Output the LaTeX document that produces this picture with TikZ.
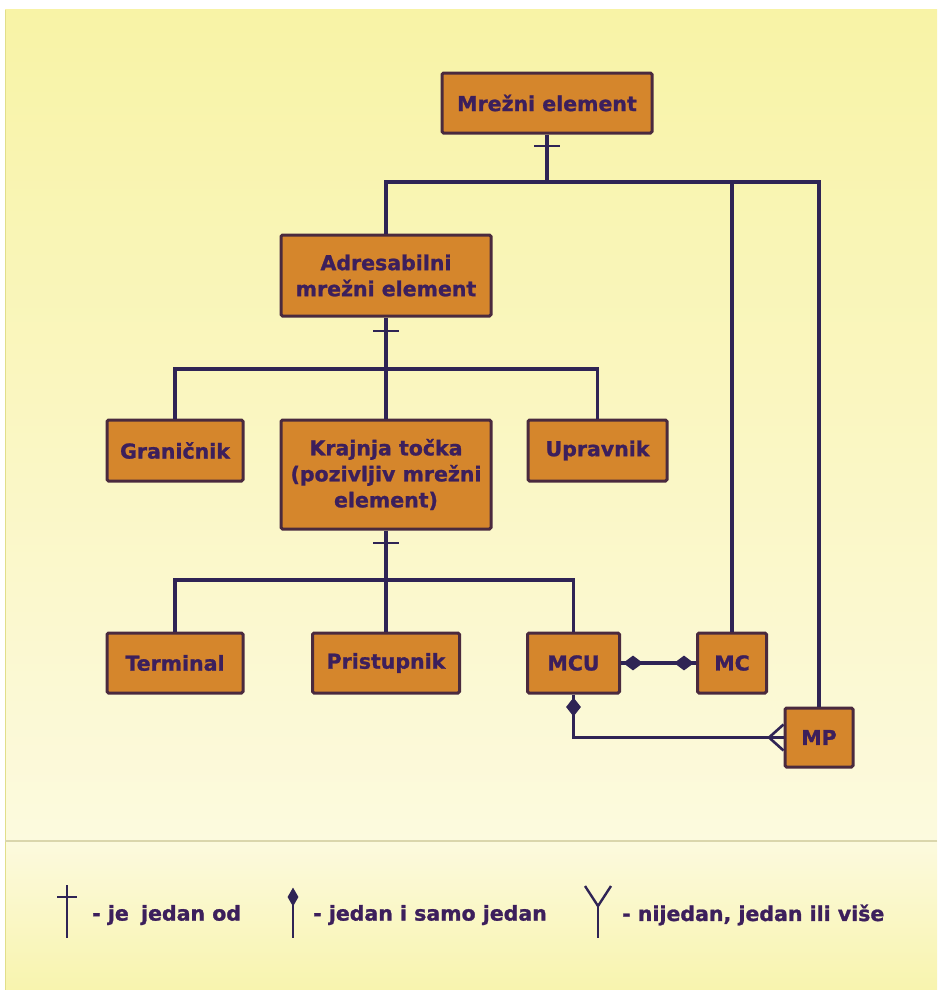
\documentclass[tikz,border=0pt]{standalone}
\usepackage{fontspec}
\setmainfont{DejaVu Sans}[BoldFeatures={FakeBold=1.2}]
\usetikzlibrary{shapes.geometric}
\definecolor{bgtop}{HTML}{F8F3A6}
\definecolor{bgmid}{HTML}{FCFADE}
\definecolor{bgbot}{HTML}{F8F4AE}
\definecolor{boxfill}{HTML}{D5862C}
\definecolor{boxedge}{HTML}{4A2A3E}
\definecolor{ink}{HTML}{3C1F5C}
\definecolor{wire}{HTML}{2F2455}
\definecolor{rule}{HTML}{DAD6AC}
\tikzset{
  box/.style={draw=boxedge, line width=3pt, fill=boxfill, rounded corners=1.5pt,
    text=ink, font=\fontsize{20.5}{26}\selectfont\bfseries, align=center, inner sep=0pt},
  link/.style={draw=wire, line width=3.2pt},
  tickmark/.style={draw=wire, line width=2.6pt},
  dmd/.style={shape=diamond, fill=wire, inner sep=0pt, minimum width=20pt, minimum height=15pt},
  legtext/.style={anchor=west, text=ink, font=\fontsize{20.5}{24}\selectfont\bfseries, inner sep=0pt},
  legsym/.style={draw=wire, line width=2.4pt}
}
\begin{document}
\begin{tikzpicture}[x=1pt, y=-1pt]
\useasboundingbox (0,0) rectangle (937,990);
% page background
\fill[white] (0,0) rectangle (937,990);
\shade[top color=bgtop, bottom color=bgmid] (5,10) rectangle (937,841);
\shade[top color=bgmid, bottom color=bgbot] (5,841) rectangle (937,990);
\draw[color=rule!80!yellow, line width=1.5pt] (5.5,10) -- (5.5,990);
\draw[rule, line width=2pt] (5,841) -- (937,841);

% boxes
\node[box, minimum width=210, minimum height=60] (me) at (547,103) {Mrežni element};
\node[box, minimum width=210, minimum height=81] (ad) at (386,275.5) {Adresabilni\\mrežni element};
\node[box, minimum width=136, minimum height=61] (gr) at (175,450.5) {Graničnik};
\node[box, minimum width=210, minimum height=109] (kt) at (386,474.5) {Krajnja točka\\(pozivljiv mrežni\\element)};
\node[box, minimum width=139, minimum height=61] (up) at (597.5,450.5) {Upravnik};
\node[box, minimum width=136, minimum height=60] (te) at (175,663) {Terminal};
\node[box, minimum width=147, minimum height=60] (pr) at (386,663) {Pristupnik};
\node[box, minimum width=92, minimum height=60] (mcu) at (573.5,663) {MCU};
\node[box, minimum width=69, minimum height=60] (mc) at (732,663) {MC};
\node[box, minimum width=68, minimum height=59] (mp) at (819,737.5) {MP};

% bus levels
\coordinate (bus1) at (0,182);
\coordinate (bus2) at (0,369);
\coordinate (bus3) at (0,580);

% level 1: network element
\draw[link] (me.south) -- (me.south |- bus1);
\draw[link] (ad.north) -- (ad.north |- bus1) -- (mp.north |- bus1) -- (mp.north);
\draw[link] (mc.north) -- (mc.north |- bus1);
\draw[tickmark] ([xshift=-13pt]me.south |- 0,146) -- ([xshift=13pt]me.south |- 0,146);

% level 2: addressable element
\draw[link] (ad.south) -- (kt.north);
\draw[link] (gr.north) -- (gr.north |- bus2) -- (up.north |- bus2) -- (up.north);
\draw[tickmark] ([xshift=-13pt]ad.south |- 0,331) -- ([xshift=13pt]ad.south |- 0,331);

% level 3: endpoint
\draw[link] (kt.south) -- (pr.north);
\draw[link] (te.north) -- (te.north |- bus3) -- (mcu.north |- bus3) -- (mcu.north);
\draw[tickmark] ([xshift=-13pt]kt.south |- 0,543) -- ([xshift=13pt]kt.south |- 0,543);

% MCU - MC
\draw[link] (mcu.east) -- (mc.west);
\node[dmd] (d1) at (633,663) {};
\node[dmd] (d2) at (684,663) {};

% MCU - MP
\coordinate (foot) at (769,737.5);
\draw[link] (mcu.south) |- (foot) -- (mp.west);
\node[dmd, minimum width=15pt, minimum height=19pt] (d3) at (573.5,707) {};
\draw[link, line width=2.6pt, line join=miter] ([yshift=13pt]mp.west) -- (foot) -- ([yshift=-13pt]mp.west);

% legend
\draw[legsym] (67,885) -- (67,938);
\draw[legsym] (57,897) -- (77,897);
\node[legtext] (l1) at (92,915) {- je\hspace{0.6em}jedan od};

\draw[legsym] (293,904) -- (293,938);
\node[shape=diamond, fill=wire, inner sep=0pt, minimum width=11pt, minimum height=19pt] (ld) at (293,897) {};
\node[legtext] (l2) at (313,915) {- jedan i samo jedan};

\draw[legsym] (585,886) -- (598,906) -- (611,886);
\draw[legsym] (598,906) -- (598,938);
\node[legtext] (l3) at (622,915) {- nijedan, jedan ili više};
\end{tikzpicture}
\end{document}
